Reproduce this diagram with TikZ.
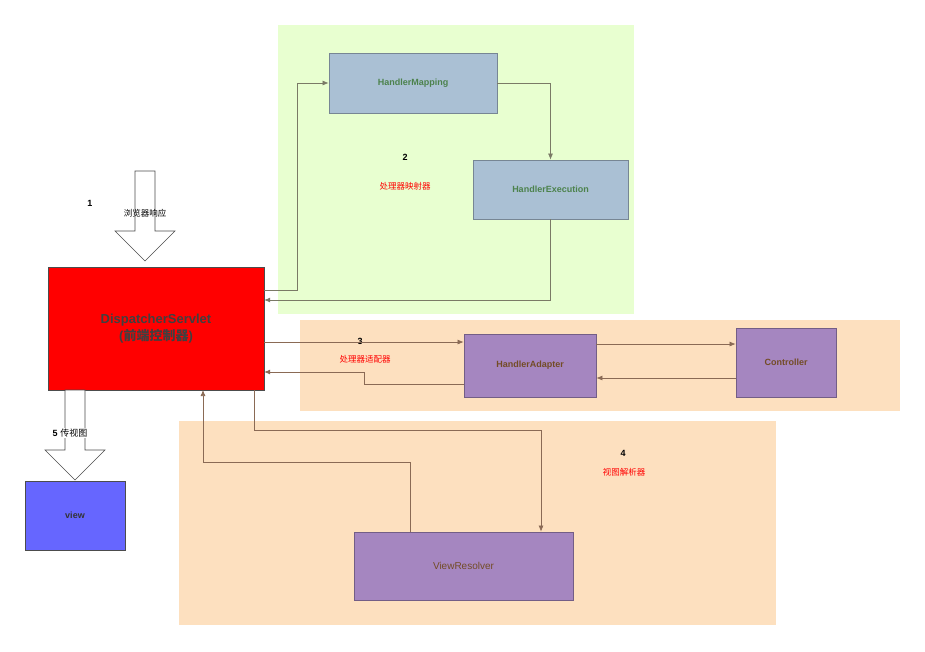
\documentclass[tikz,border=0pt]{standalone}
\usepackage{fontspec}
\setmainfont{Liberation Sans}
\newfontfamily\cjk{Noto Sans CJK SC}
\usetikzlibrary{arrows.meta,shapes.arrows}
\definecolor{grn}{HTML}{E8FFD0}
\definecolor{org}{HTML}{FDE0BF}
\definecolor{blu}{HTML}{AAC0D4}
\definecolor{pur}{HTML}{A586C0}
\definecolor{ln}{HTML}{7A7A66}
\definecolor{ln2}{HTML}{8A6A55}
\begin{document}
\begin{tikzpicture}[x=1pt,y=-1pt,
  box/.style={draw=#1!70!black,line width=0.8pt,inner sep=0},
  lab/.style={font=\bfseries\fontsize{9}{10}\selectfont},
  red/.style={text=red,font=\cjk\fontsize{8.5}{10}\selectfont},
  con/.style={draw=ln,line width=0.7pt,-{Latex[length=6pt,width=5pt]}},
  con2/.style={draw=ln2,line width=0.7pt,-{Latex[length=6pt,width=5pt]}}]
\useasboundingbox (0,0) rectangle (925,651);
\fill[grn] (278,25) rectangle (634,314);
\fill[org] (300,320) rectangle (900,411);
\fill[org] (179,421) rectangle (776,625);
\node[box=blu,fill=blu,minimum width=168pt,minimum height=60pt,text=green!30!black!70,lab] (hm) at (413,83) {HandlerMapping};
\node[box=blu,fill=blu,minimum width=155pt,minimum height=59pt,text=green!30!black!70,lab] (he) at (550.5,189.5) {HandlerExecution};
\node[box=pur,fill=pur,minimum width=132pt,minimum height=63pt,text=brown!60!black,lab] (ha) at (530,365.5) {HandlerAdapter};
\node[box=pur,fill=pur,minimum width=100pt,minimum height=69pt,text=brown!60!black,lab] (ct) at (786,362.5) {Controller};
\node[box=pur,fill=pur,minimum width=219pt,minimum height=68pt,text=brown!60!black,font=\fontsize{10}{12}\selectfont] (vr) at (463.5,566) {ViewResolver};
\node[draw=black!70,fill=red,minimum width=216pt,minimum height=123pt,inner sep=0,align=center,text=black!75,font=\bfseries\fontsize{13}{17}\selectfont] (ds) at (156,328.5) {DispatcherServlet\\({\cjk 前端控制器})};
\node[draw=black!70,fill=blue!60,minimum width=100pt,minimum height=69pt,inner sep=0,text=black!80,lab] (vw) at (75,515.5) {view};
% big arrows
\draw[black!70,fill=white,line width=0.6pt] (135,171)--(155,171)--(155,231)--(175,231)--(145,261)--(115,231)--(135,231)--cycle;
\draw[black!70,fill=white,line width=0.6pt] (65,390)--(85,390)--(85,450)--(105,450)--(75,480)--(45,450)--(65,450)--cycle;
\node[font=\bfseries\fontsize{9}{10}\selectfont] (n1) at (90,203) {1};
\node[font=\cjk\fontsize{8.5}{10}\selectfont] (t1) at (145,213) {浏览器响应};
\node[fill=white,inner sep=1pt,font=\fontsize{9}{10}\selectfont] (t5) at (70,433) {\textbf{5} {\cjk 传视图}};
\node[font=\bfseries\fontsize{9}{10}\selectfont] (n2) at (405,157) {2};
\node[red] (t2) at (405,186) {处理器映射器};
\node[font=\bfseries\fontsize{9}{10}\selectfont] (n3) at (360,341) {3};
\node[red] (t3) at (365,359) {处理器适配器};
\node[font=\bfseries\fontsize{9}{10}\selectfont] (n4) at (623,453) {4};
\node[red] (t4) at (624,472) {视图解析器};
% connectors
\draw[con] (ds.east|-0,290) -- (297,290) |- (hm.west);
\draw[con] (hm.east) -| (he.north);
\draw[con] (he.south) |- (ds.east|-0,300);
\draw[con2] (ds.east|-0,342) -- (ha.west|-0,342);
\draw[con2] (ha.east|-0,344) -- (ct.west|-0,344);
\draw[con2] (ct.west|-0,378) -- (ha.east|-0,378);
\draw[con2] (ha.west|-0,384) -- (364,384) -- (364,372) -- (ds.east|-0,372);
\draw[con2] (254,390) -- (254,430) -| (vr.north-|541,0);
\draw[con2] (vr.north-|410,0) -- (410,462) -| (203,390);
\end{tikzpicture}
\end{document}
